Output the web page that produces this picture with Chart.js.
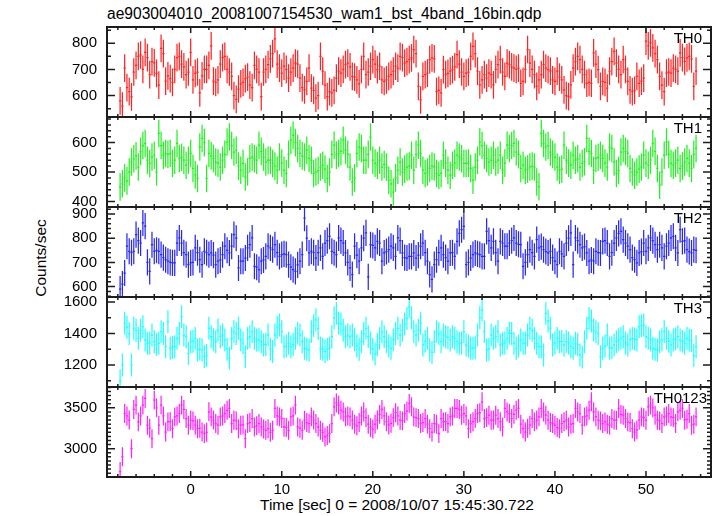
<!DOCTYPE html>
<html lang="en">
<head>
<meta charset="UTF-8" />
<title>ae903004010 WAM light curve</title>
<script src="https://cdn.jsdelivr.net/npm/chart.js"></script>
<style>
  body { margin: 0; background: #fff; }
  #page { position: relative; width: 717px; height: 516px; overflow: hidden;
          font-family: "Liberation Sans", Arial, sans-serif; color: #000; }
  #page canvas { position: absolute; left: 0; }
  .txt { position: absolute; white-space: nowrap; line-height: 16px; }
  #title { left: 107px; top: 6px; font-size: 15.6px; }
  #xtitle { left: 260px; top: 497px; font-size: 15.5px; }
  #ytitle { left: 41px; top: 258px; font-size: 15.5px; transform: translate(-50%, -50%) rotate(-90deg); }
</style>
</head>
<body>
<div id="page">
  <div id="title" class="txt">ae903004010_20081007154530_wam1_bst_4band_16bin.qdp</div>
  <div id="ytitle" class="txt">Counts/sec</div>
  <div id="xtitle" class="txt">Time [sec] 0 = 2008/10/07 15:45:30.722</div>
</div>
<script>
  // 0.25 s bins, first bin centre at -7.75 s
  const binStart = -7.75;
  const binWidth = 0.25;

  const panelNames = ["TH0", "TH1", "TH2", "TH3", "TH0123"];
  const errorBars = [53, 47, 54, 73, 116];

  const th0 = [
    580,560,705,630,615,595,690,715,750,755, 700,765,745,680,730,725,685,640,780,760,
    655,675,665,650,700,745,750,720,710,680, 690,765,660,685,690,610,675,700,700,715,
    790,655,650,660,720,745,750,700,690,
    673,600,585,625,645,650,665,670,640,630, 715,700,690,596,690,700,718,740,760,817,
    720,705,686,712,700,667,690,705,724,720, 667,630,622,654,705,628,620,590,600,750,
    693,640,596,615,610,620,667,693,686,700, 718,724,710,
    673,670,660,645,700,750,680,690,712,737, 720,699,712,660,654,660,673,680,693,712,
    705,750,745,724,730,737,744,776,760,635, 583,673,680,686,737,744,740,615,620,610,
    699,680,685,693,699,710,756,720,690,673, 686,690,750,788,760,693,641,660,680,667,
    686,680,641,700,718,737,690,673,724,718, 710,705,700,705,647,654,700,776,724,700,
    680,635,660,680,718,705,699,693,660,654, 693,670,660,622,600,596,641,705,730,750,
    737,700,680,647,650,647,763,720,699,635, 654,650,628,693,730,769,724,700,680,737,
    700,654,622,615,620,673,647,655,667,808, 790,801,782,760,737,673,640,615,686,690,
    686,705,700,693,763,745,731,744,750,740, 635,693
  ];
  const th1 = [
    449,460,480,470,500,534,545,555,517,570, 590,597,540,529,551,557,500,631,590,557,
    563,560,563,529,540,597,546,550,540,523, 540,563,512,490,478,585,614,600,478,563,
    555,546,534,530,517,540,560,602,619,590, 568,574,520,506,529,483,500,546,551,545,
    540,591,570,551,534,540,540,529,520,506, 551,530,506,495,560,608,625,600,580,563,
    555,551,574,546,540,495,500,505,517,523, 510,478,500,560,591,557,563,570,608,574,
    560,517,466,480,563,585,580,540,540,560, 619,540,530,523,540,517,525,517,472,460,
    432,480,506,534,500,510,517,520,
    557,506,560,591,563,506,495,500,512,520, 517,495,489,495,557,530,506,489,523,530,
    557,551,545,529,529,530,512,472,517,540, 602,590,557,546,534,540,557,534,540,557,
    506,530,591,580,590,597,568,560,512,523, 506,510,517,520,517,466,450,631,597,585,
    590,568,560,551,517,506,510,591,540,530, 523,557,540,545,517,529,535,614,570,563,
    506,546,550,557,546,530,517,585,580,534, 495,505,568,580,570,563,512,500,489,500,
    510,517,557,530,523,540,597,570,512,455, 500,557,602,560,529,523,530,540,512,520,
    534,546,530,512,560,580
  ];
  const th2 = [
    590,610,656,767,746,740,746,815,790,780, 863,850,700,663,773,746,750,746,732,720,
    711,705,700,698,698,780,801,780,740,732, 691,698,700,760,740,711,691,746,740,732,
    739,730,691,705,710,732,767,750,739,767, 815,800,677,705,705,718,760,773,801,684,
    680,670,705,710,725,767,760,753,773,740, 725,732,735,732,691,680,670,663,690,705,
    732,883,800,739,746,740,718,740,760,725, 780,790,808,746,740,732,801,790,780,739,
    700,677,650,767,730,705,760,800,822,640, 773,770,760,787,780,705,739,745,753,767,
    760,725,801,790,739,720,718,725,
    725,739,718,730,767,780,740,705,650,630, 691,711,740,760,732,720,705,739,740,725,
    787,820,835,849,691,700,718,732,739,735, 732,725,725,828,790,760,787,740,705,787,
    780,767,767,780,790,801,780,775,773,684, 700,732,753,740,725,794,760,765,753,745,
    739,746,720,705,691,746,735,725,780,800, 822,691,801,790,773,760,765,739,705,710,
    705,746,740,739,787,790,780,725,740,780, 801,820,828,794,780,767,753,720,711,698,
    739,745,780,746,760,801,790,773,753,773, 760,725,767,780,801,808,760,739,835,787,
    790,753,745,739,753,750
  ];
  const th3 = [
    1100,1200,1465,1440,1400,1200,1433,1420,1369,1420, 1443,1359,1338,1340,1390,1348,1330,1338,1412,1400,
    1316,1475,1306,1310,1316,1369,1400,1507,1390,1380, 1274,1348,1350,1369,1295,1300,1295,1253,1260,1433,
    1380,1360,1348,1422,1380,1390,1359,1300,1242,1369, 1412,1400,1433,1359,1340,1253,1369,1380,1412,1369,
    1359,1360,1348,1327,1330,1390,1300,1285,1390,1440, 1454,1412,1316,1320,1338,1316,1330,1369,1401,1390,
    1348,1306,1300,1295,1412,1450,1486,1433,1306,1300, 1285,1300,1306,1380,1500,1528,1465,1460,1420,1380,
    1390,1380,
    1390,1360,1320,1300,1348,1400,1433,1380,1340,1300, 1270,1330,1369,1410,1380,1348,1320,1306,1360,1400,
    1433,1390,1420,1460,
    1496,1570,1500,1412,1390,1420,1465,1327,1350,1369, 1295,1280,1348,1412,1400,1348,1390,1380,1375,1359,
    1380,1370,1348,1338,1340,1412,1327,1320,1306,1306, 1310,1390,1500,1549,1412,1295,1300,1390,1369,1380,
    1412,1327,1338,1340,1369,1401,1400,1338,1306,1320, 1359,1338,1340,1390,1433,1420,1369,1338,1316,1316,
    1264,1528,1480,1433,1327,1340,1369,1348,1350,1327, 1348,1340,1316,1306,1338,1330,1264,1250,1348,1433,
    1496,1480,1422,1412,1400,1253,1306,1320,1390,1306, 1310,1327,1348,1360,1369,1380,1340,1327,1359,1369,
    1365,1359,1443,1450,1454,1380,1370,1359,1306,1300, 1295,1348,1360,1412,1369,1350,1327,1359,1365,1380,
    1359,1350,1338,1369,1359,1355,1260,1316
  ];
  const th0123 = [
    2720,2900,3430,3400,3350,3000,3480,3533,3328,3400, 3533,3615,3287,3250,3122,3594,3500,3287,3533,3400,
    3204,3328,3330,3245,3389,3400,3430,3533,3480,3369, 3287,3348,3340,3287,3245,3250,3204,3184,3200,3451,
    3389,3350,3307,3287,3389,3400,3430,3470,3492,3307, 3348,3340,3245,3287,3290,3122,3307,3320,3369,3266,
    3280,3307,3266,3240,3225,3245,3200,3225,3492,3400, 3389,3369,3266,3260,3225,3389,3400,3533,3266,3250,
    3225,3348,3320,3307,3389,3350,3307,3266,3225,3200, 3143,3160,3184,3307,3512,3560,3533,3471,3450,3389,
    3400,3389,
    3350,3300,3280,3320,3400,3450,3380,3300,3260,3240, 3300,3350,3420,3480,3400,3330,3290,3310,3380,3440,
    3400,
    3348,3340,3430,3460,3553,3512,3389,3380,3369,3307, 3320,3369,3300,3245,3204,3307,3300,3184,3369,3328,
    3330,3307,3389,3400,3492,3492,3480,3410,3430,3400, 3245,3307,3330,3369,3430,3440,3574,3369,3380,3410,
    3348,3350,3410,3369,3330,3266,3492,3450,3430,3369, 3420,3471,3492,3300,3245,3204,3250,3287,3369,3328,
    3350,3389,3492,3450,3410,3348,3320,3307,3287,3260, 3245,3307,3330,3348,3266,3300,3307,3492,3450,3430,
    3287,3389,3400,3471,3574,3450,3389,3348,3340,3307, 3328,3300,3287,3369,3350,3348,3492,3420,3410,3369,
    3328,3320,3245,3204,3230,3348,3389,3380,3348,3512, 3533,3500,3410,3348,3340,3307,3389,3400,3430,3389,
    3380,3307,3451,3470,3492,3348,3360,3430,3287,3300, 3389
  ];
  const seriesValues = [th0, th1, th2, th3, th0123];

  const yRanges = [[518, 862], [381, 687], [557, 929], [1060, 1632], [2653, 3755]];
  const yTickLabels = [[600, 700, 800], [400, 500, 600], [600, 700, 800, 900], [1200, 1400, 1600], [3000, 3500]];
  const yMinorStep = [50, 20, 20, 100, 50];
  const xRange = [-9.19, 57.14];
  const xTickLabels = [0, 10, 20, 30, 40, 50];

  // layout
  const panelColors = ["#ff2424", "#24f024", "#2828f0", "#24ffff", "#ff24ff"];
  const panelTops = [27, 117, 207, 297, 387];
  const panelHeight = 90;
  const padTop = 12;
  const tickFont = { family: '"Liberation Sans", Arial, sans-serif', size: 15 };

  const qdpPanel = {
    id: "qdpPanel",
    afterDatasetsDraw(chart, args, opts) {
      const { ctx, chartArea: a } = chart;
      const xs = chart.scales.x, ys = chart.scales.y;
      const k = opts.panel;

      // steps + error bars
      ctx.save();
      ctx.beginPath();
      ctx.rect(a.left, a.top, a.right - a.left, a.bottom - a.top);
      ctx.clip();
      ctx.strokeStyle = panelColors[k];
      ctx.lineWidth = 1.25;
      ctx.beginPath();
      chart.data.datasets[0].data.forEach(p => {
        const yc = ys.getPixelForValue(p.y);
        ctx.moveTo(xs.getPixelForValue(p.x - binWidth / 2), yc);
        ctx.lineTo(xs.getPixelForValue(p.x + binWidth / 2), yc);
        const xc = xs.getPixelForValue(p.x);
        ctx.moveTo(xc, ys.getPixelForValue(p.y - p.err));
        ctx.lineTo(xc, ys.getPixelForValue(p.y + p.err));
      });
      ctx.stroke();
      ctx.restore();

      // frame with inward ticks on all four sides
      ctx.save();
      ctx.strokeStyle = "#1c1c1c";
      ctx.lineWidth = 1.5;
      ctx.beginPath();
      const [ymin, ymax] = yRanges[k];
      const major = yTickLabels[k][1] - yTickLabels[k][0];
      const step = yMinorStep[k];
      for (let v = Math.ceil(ymin / step) * step; v <= ymax; v += step) {
        const len = v % major === 0 ? 8 : 4;
        const py = ys.getPixelForValue(v);
        ctx.moveTo(a.left, py); ctx.lineTo(a.left + len, py);
        ctx.moveTo(a.right, py); ctx.lineTo(a.right - len, py);
      }
      for (let t = Math.ceil(xRange[0] / 2) * 2; t <= xRange[1]; t += 2) {
        const len = t % 10 === 0 ? 6 : 3;
        const px = xs.getPixelForValue(t);
        ctx.moveTo(px, a.top); ctx.lineTo(px, a.top + len);
        ctx.moveTo(px, a.bottom); ctx.lineTo(px, a.bottom - len);
      }
      ctx.stroke();
      ctx.lineWidth = 2;
      ctx.strokeRect(a.left, a.top, a.right - a.left, a.bottom - a.top);

      ctx.fillStyle = "#000";
      ctx.font = '15px "Liberation Sans", Arial, sans-serif';
      ctx.textAlign = "right";
      ctx.textBaseline = "alphabetic";
      ctx.fillText(panelNames[k], k === 4 ? 707 : 702, a.top + 16);
      ctx.restore();
    }
  };

  const page = document.getElementById("page");

  seriesValues.forEach((vals, k) => {
    const last = k === seriesValues.length - 1;
    const top = panelTops[k] - padTop;
    const h = last ? 516 - top : panelHeight + 2 * padTop;
    const canvas = document.createElement("canvas");
    canvas.width = 717;
    canvas.height = h;
    canvas.style.top = top + "px";
    canvas.style.width = "717px";
    canvas.style.height = h + "px";
    page.appendChild(canvas);

    const points = vals.map((v, i) => ({ x: binStart + i * binWidth, y: v, err: errorBars[k] }));

    new Chart(canvas, {
      type: "scatter",
      data: {
        datasets: [{ data: points, pointRadius: 0, showLine: false }]
      },
      options: {
        responsive: false,
        animation: false,
        events: [],
        layout: { padding: { top: padTop, bottom: last ? 0 : padTop, left: 0, right: 6 } },
        plugins: {
          legend: { display: false },
          tooltip: { enabled: false },
          qdpPanel: { panel: k }
        },
        scales: {
          x: {
            type: "linear",
            min: xRange[0],
            max: xRange[1],
            display: last,
            grid: { display: false, drawTicks: false },
            border: { display: false },
            ticks: { color: "#000", font: tickFont, padding: 4, maxRotation: 0, autoSkip: false,
                     callback: v => String(v) },
            afterBuildTicks: s => { s.ticks = xTickLabels.map(v => ({ value: v })); },
            afterFit: s => {
              s.height = last ? 516 - (panelTops[k] + panelHeight) : 0;
              s.paddingLeft = 0; s.paddingRight = 0;
            }
          },
          y: {
            type: "linear",
            min: yRanges[k][0],
            max: yRanges[k][1],
            grid: { display: false, drawTicks: false },
            border: { display: false },
            ticks: { color: "#000", font: tickFont, padding: 10, autoSkip: false,
                     callback: v => String(v) },
            afterBuildTicks: s => { s.ticks = yTickLabels[k].map(v => ({ value: v })); },
            afterFit: s => { s.width = 107; s.paddingTop = 0; s.paddingBottom = 0; }
          }
        }
      },
      plugins: [qdpPanel]
    });
  });
</script>
</body>
</html>
